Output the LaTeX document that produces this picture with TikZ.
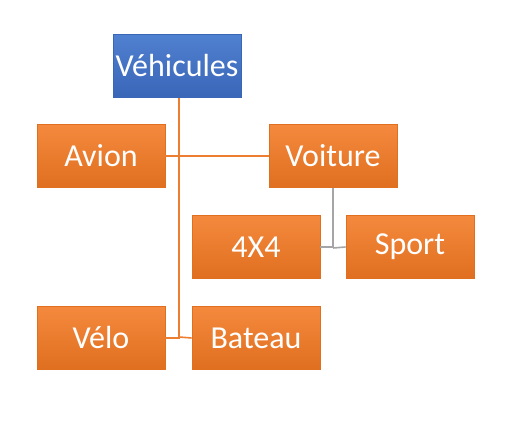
\documentclass[tikz,border=0pt]{standalone}
\usepackage{fontspec}
\setmainfont{Carlito}
\definecolor{orng}{HTML}{ED7D31}
\definecolor{orngL}{HTML}{F4893D}
\definecolor{orngD}{HTML}{E06F20}
\definecolor{blu}{HTML}{4472C4}
\definecolor{bluL}{HTML}{5080D0}
\definecolor{bluD}{HTML}{3A66B8}
\definecolor{gry}{HTML}{A5A5A5}
\begin{document}
\begin{tikzpicture}[x=1pt,y=-1pt,
  obox/.style={draw=orngD, line width=0.8pt, top color=orngL, bottom color=orngD, minimum width=128pt, minimum height=63pt, text=white, font=\fontsize{32}{36}\selectfont, inner sep=0pt},
  bbox/.style={obox, draw=bluD, top color=bluL, bottom color=bluD},
  oline/.style={draw=orng, line width=1.6pt},
  gline/.style={draw=gry, line width=1.6pt}]
\useasboundingbox (0,0) rectangle (506,435);
\node[bbox] (veh) at (177,66) {Véhicules};
\node[obox] (avion) at (101,156) {Avion};
\node[obox] (voit) at (333,156) {Voiture};
\node[obox] (q4) at (256,247) {4X4};
\node[obox] (sport) at (410,247) {Sport};
\node[obox] (velo) at (101,338) {Vélo};
\node[obox] (bat) at (256,338) {Bateau};
\coordinate (j1) at (179,337);
\coordinate (j2) at (333,248);
\draw[oline] ([xshift=2pt]veh.south) |- (velo.east);
\draw[oline] (j1) -- (bat.west);
\draw[oline] (avion.east) -- (voit.west);
\draw[gline] (voit.south) |- (q4.east);
\draw[gline] (j2) -- (sport.west);
\end{tikzpicture}
\end{document}
